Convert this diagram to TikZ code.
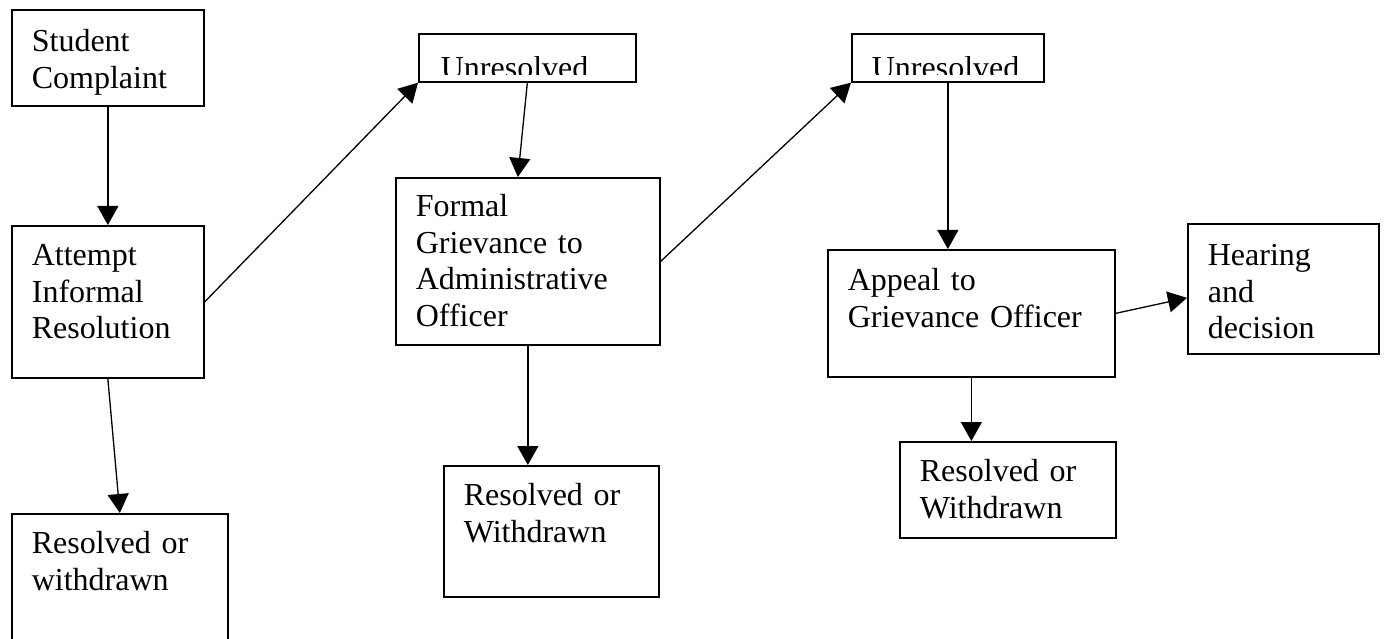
\documentclass[tikz,border=0pt]{standalone}
\usepackage{fontspec}
\setmainfont{Liberation Serif}
\usepackage{adjustbox}
\usetikzlibrary{arrows.meta}
\tikzset{
    every node/.style={draw, rectangle, line width=1.7pt, anchor=north west,
    	inner xsep=20pt, inner ysep=0pt, align=left,
    	font=\fontsize{32}{36.5}\selectfont}
}
\tikzset{
    every edge/.append style={line width=1.3pt,
    	-{Triangle[length=19pt,width=21pt]}}
}
\tikzset{
	sz/.style n args={3}{text width=#1, text height=#2, text depth=#3}
}

\begin{document}
\begin{tikzpicture}[x=1pt,y=-1pt]
	\useasboundingbox (0,0) rectangle (1384,639);
	\node (sc) [sz={152pt}{42pt}{54pt}] at (11,9) {Student\\Complaint};
	\node (att) [sz={152pt}{40pt}{112pt}] at (11,225) {Attempt\\Informal\\Resolution};
	\node (rw1) [sz={176pt}{40pt}{97pt}] at (11,513) {Resolved or\\withdrawn};
	\node (un1) [sz={173pt}{41pt}{7pt}, inner xsep=22pt] at (418,33)
		{\clipbox{0pt 4pt 0pt 0pt}{Unresolved}};
	\node (fg) [sz={224pt}{39pt}{128pt}] at (395,177) {Formal\\Grievance to\\Administrative\\Officer};
	\node (rw2) [sz={175pt}{40pt}{91pt}] at (443,465) {Resolved or\\Withdrawn};
	\node (un2) [sz={152pt}{41pt}{7pt}] at (851,33)
		{\clipbox{0pt 4pt 0pt 0pt}{Unresolved}};
	\node (ap) [sz={247pt}{41pt}{86pt}] at (827,249) {Appeal to\\Grievance Officer};
	\node (hd) [sz={151pt}{42pt}{88pt}] at (1187,223) {Hearing\\and\\decision};
	\node (rw3) [sz={176pt}{40pt}{56pt}] at (899,441) {Resolved or\\Withdrawn};
	
	\draw (sc) edge (att); \draw (att.south) edge (rw1.north);
	\draw (att.east) edge (un1.south west);
	\draw (un1.south) edge ([xshift=-10pt]fg.north);
	\draw (fg.south) edge (fg.south |- rw2.north);
	\draw (fg.east) edge (un2.south west);
	\draw (un2.south) edge (un2.south |- ap.north);
	\draw (ap.east) edge ([yshift=-9pt]hd.west);
	\draw (ap.south) edge (ap.south |- rw3.north);
\end{tikzpicture}
\end{document}
